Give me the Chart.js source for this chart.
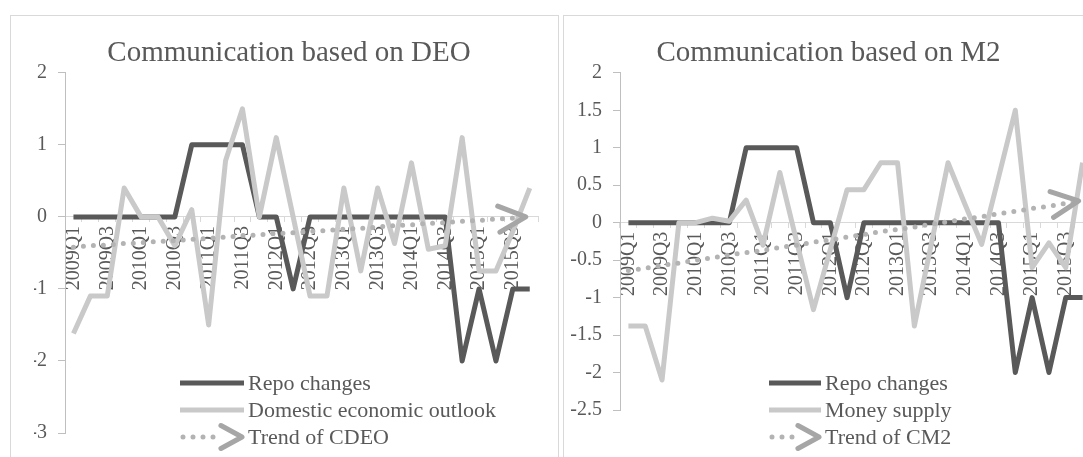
<!DOCTYPE html>
<html>
<head>
<meta charset="utf-8">
<title>Communication based on DEO / M2</title>
<script src="https://cdn.jsdelivr.net/npm/chart.js@4.4.1/dist/chart.umd.min.js"></script>
<style>
  html, body { margin: 0; padding: 0; background: #fff; overflow: hidden; }
  body { width: 1083px; height: 457px; position: relative; }
  .panel { position: absolute; top: 15px; width: 549px; height: 470px; border: 1px solid #d9d9d9; box-sizing: border-box; background: #fff; }
  #panelDeo { left: 10px; }
  #panelM2 { left: 563px; }
  .panel canvas { position: absolute; left: 0; top: 0; }
</style>
</head>
<body>
<div class="panel" id="panelDeo"><canvas id="chartDeo" width="547" height="441"></canvas></div>
<div class="panel" id="panelM2"><canvas id="chartM2" width="547" height="441"></canvas></div>
<script>
// Trimestres 2009Q1 - 2015Q4
const quarters = [
    '2009Q1', '2009Q2', '2009Q3', '2009Q4', '2010Q1', '2010Q2', '2010Q3', '2010Q4',
    '2011Q1', '2011Q2', '2011Q3', '2011Q4', '2012Q1', '2012Q2', '2012Q3', '2012Q4',
    '2013Q1', '2013Q2', '2013Q3', '2013Q4', '2014Q1', '2014Q2', '2014Q3', '2014Q4',
    '2015Q1', '2015Q2', '2015Q3', '2015Q4'
];
// solo se muestra uno de cada dos
const xTickLabels = ['2009Q1', '2009Q3', '2010Q1', '2010Q3', '2011Q1', '2011Q3', '2012Q1',
    '2012Q3', '2013Q1', '2013Q3', '2014Q1', '2014Q3', '2015Q1', '2015Q3'];

const yTicksDeo = [-3, -2, -1, 0, 1, 2];
const yTicksM2 = [-2.5, -2, -1.5, -1, -0.5, 0, 0.5, 1, 1.5, 2];

const repoChanges = [0, 0, 0, 0, 0, 0, 0, 1, 1, 1, 1, 0, 0, -1, 0, 0, 0, 0, 0, 0, 0, 0, 0, -2, -1, -2, -1, -1];

const domesticOutlook = [-1.62, -1.1, -1.1, 0.4, 0, 0, -0.4, 0.1, -1.5, 0.78, 1.5, 0, 1.1, 0,
    -1.1, -1.1, 0.4, -0.75, 0.4, -0.37, 0.75, -0.45, -0.4, 1.1, -0.75, -0.75, -0.2, 0.4];
const trendCdeo = [-0.42, -0.4, -0.39, -0.37, -0.36, -0.34, -0.33, -0.31, -0.3, -0.28, -0.26, -0.25,
    -0.23, -0.22, -0.2, -0.19, -0.17, -0.16, -0.14, -0.12, -0.11, -0.09, -0.08, -0.06, -0.05, -0.03, -0.02, 0];

const moneySupply = [-1.38, -1.38, -2.1, 0, 0, 0.06, 0.02, 0.3, -0.3, 0.67, -0.25, -1.16, -0.36, 0.44,
    0.44, 0.8, 0.8, -1.38, -0.29, 0.8, 0.25, -0.29, 0.6, 1.5, -0.6, -0.27, -0.6, 0.8];
const trendCm2 = [-0.64, -0.61, -0.57, -0.54, -0.5, -0.47, -0.43, -0.4, -0.37, -0.33, -0.3, -0.26,
    -0.23, -0.19, -0.16, -0.12, -0.09, -0.06, -0.02, 0.01, 0.05, 0.08, 0.12, 0.15, 0.19, 0.22, 0.26, 0.29];

const TEXT = '#595959';
const SERIF = "'Liberation Serif', 'Times New Roman', serif";

// punta de flecha abierta al final de la tendencia
function drawChevron(ctx, x, y, angle, len, spread) {
    ctx.beginPath();
    ctx.moveTo(x - len * Math.cos(angle - spread), y - len * Math.sin(angle - spread));
    ctx.lineTo(x, y);
    ctx.lineTo(x - len * Math.cos(angle + spread), y - len * Math.sin(angle + spread));
    ctx.stroke();
}

const arrowPlugin = {
    id: 'arrowEnd',
    afterDatasetsDraw(chart) {
        const ctx = chart.ctx;
        chart.data.datasets.forEach((ds, i) => {
            if (!ds.arrow) return;
            const pts = chart.getDatasetMeta(i).data;
            const last = pts[pts.length - 1];
            const prev = pts[pts.length - 2];
            const ang = Math.atan2(last.y - prev.y, last.x - prev.x);
            ctx.save();
            ctx.strokeStyle = '#a6a6a6';
            ctx.lineWidth = 5;
            ctx.lineCap = 'round';
            ctx.lineJoin = 'round';
            drawChevron(ctx, last.x - 4, last.y, ang, 30, 0.45);
            ctx.restore();
        });
    }
};

// leyenda dentro del área del gráfico, como en Excel
const insideLegend = {
    id: 'insideLegend',
    afterDraw(chart, args, opts) {
        const ctx = chart.ctx;
        ctx.save();
        ctx.font = opts.fontSize + 'px ' + SERIF;
        ctx.textBaseline = 'middle';
        chart.data.datasets.forEach((ds, i) => {
            const y = opts.y + i * opts.rowHeight;
            const x0 = opts.x;
            ctx.strokeStyle = ds.borderColor;
            ctx.lineWidth = ds.borderWidth;
            ctx.lineCap = ds.arrow ? 'round' : 'butt';
            ctx.setLineDash(ds.borderDash || []);
            ctx.beginPath();
            ctx.moveTo(x0 + (ds.arrow ? 3 : 0), y);
            ctx.lineTo(x0 + (ds.arrow ? opts.lineLength - 28 : opts.lineLength), y);
            ctx.stroke();
            ctx.setLineDash([]);
            if (ds.arrow) {
                ctx.strokeStyle = '#a6a6a6';
                ctx.lineCap = 'round';
                ctx.lineJoin = 'round';
                drawChevron(ctx, x0 + opts.lineLength - 2, y, 0, 24, 0.5);
            }
            ctx.fillStyle = TEXT;
            ctx.fillText(ds.label, x0 + opts.lineLength + 4, y + 1);
        });
        ctx.restore();
    }
};

function crearGrafico(id, cfg) {
    const ctx = document.getElementById(id).getContext('2d');
    return new Chart(ctx, {
        type: 'line',
        data: {
            labels: quarters,
            datasets: [{
                label: 'Repo changes',
                data: repoChanges,
                borderColor: '#595959',
                borderWidth: 5,
                order: 3
            }, {
                label: cfg.seriesLabel,
                data: cfg.series,
                borderColor: '#c9c9c9',
                borderWidth: 5,
                order: 2
            }, {
                label: cfg.trendLabel,
                data: cfg.trend,
                borderColor: '#b3b3b3',
                borderWidth: 5,
                borderDash: [0, 10],
                borderCapStyle: 'round',
                arrow: true,
                order: 1
            }]
        },
        options: {
            responsive: false,
            animation: false,
            events: [],
            elements: {
                point: { radius: 0 },
                line: { tension: 0, borderJoinStyle: 'round' }
            },
            layout: {
                padding: { left: cfg.padLeft, right: cfg.padRight, top: 0, bottom: cfg.padBottom }
            },
            plugins: {
                legend: { display: false },
                tooltip: { enabled: false },
                title: {
                    display: true,
                    text: cfg.title,
                    color: TEXT,
                    font: { family: SERIF, size: 29, weight: 'normal' },
                    padding: { top: 20, bottom: 2 }
                },
                insideLegend: cfg.legend
            },
            scales: {
                x: {
                    position: { y: 0 },
                    offset: true,
                    grid: {
                        display: true,
                        offset: true,
                        drawOnChartArea: false,
                        drawTicks: true,
                        tickLength: 5,
                        color: '#d9d9d9'
                    },
                    border: { display: true, color: '#d9d9d9', width: 1 },
                    ticks: {
                        autoSkip: false,
                        maxRotation: 90,
                        minRotation: 90,
                        padding: 4,
                        color: TEXT,
                        font: { family: SERIF, size: 20 },
                        callback: function(value, index) {
                            const q = quarters[index];
                            return xTickLabels.includes(q) ? q : '';
                        }
                    }
                },
                y: {
                    min: cfg.yTicks[0],
                    max: cfg.yTicks[cfg.yTicks.length - 1],
                    afterBuildTicks: (scale) => {
                        scale.ticks = cfg.yTicks.map(v => ({ value: v }));
                    },
                    afterFit: (scale) => {
                        scale.width = cfg.yAxisWidth;
                    },
                    grid: {
                        drawOnChartArea: false,
                        drawTicks: true,
                        tickLength: 7,
                        color: '#bfbfbf'
                    },
                    border: { display: true, color: '#bfbfbf', width: 1 },
                    ticks: {
                        padding: 11,
                        color: TEXT,
                        font: { family: SERIF, size: 20 },
                        callback: (value) => String(value)
                    }
                }
            }
        },
        plugins: [arrowPlugin, insideLegend]
    });
}

let chartDeo, chartM2;

document.addEventListener('DOMContentLoaded', function() {
    chartDeo = crearGrafico('chartDeo', {
        title: 'Communication based on DEO',
        seriesLabel: 'Domestic economic outlook',
        series: domesticOutlook,
        trendLabel: 'Trend of CDEO',
        trend: trendCdeo,
        yTicks: yTicksDeo,
        padLeft: 23,
        padRight: 14,
        padBottom: 24,
        yAxisWidth: 31,
        legend: { x: 169, y: 367, rowHeight: 27, lineLength: 64, fontSize: 22 }
    });
    chartM2 = crearGrafico('chartM2', {
        title: 'Communication based on M2',
        seriesLabel: 'Money supply',
        series: moneySupply,
        trendLabel: 'Trend of CM2',
        trend: trendCm2,
        yTicks: yTicksM2,
        padLeft: 2,
        padRight: 20,
        padBottom: 47,
        yAxisWidth: 54,
        legend: { x: 205, y: 367, rowHeight: 27, lineLength: 52, fontSize: 22 }
    });
});
</script>
</body>
</html>
